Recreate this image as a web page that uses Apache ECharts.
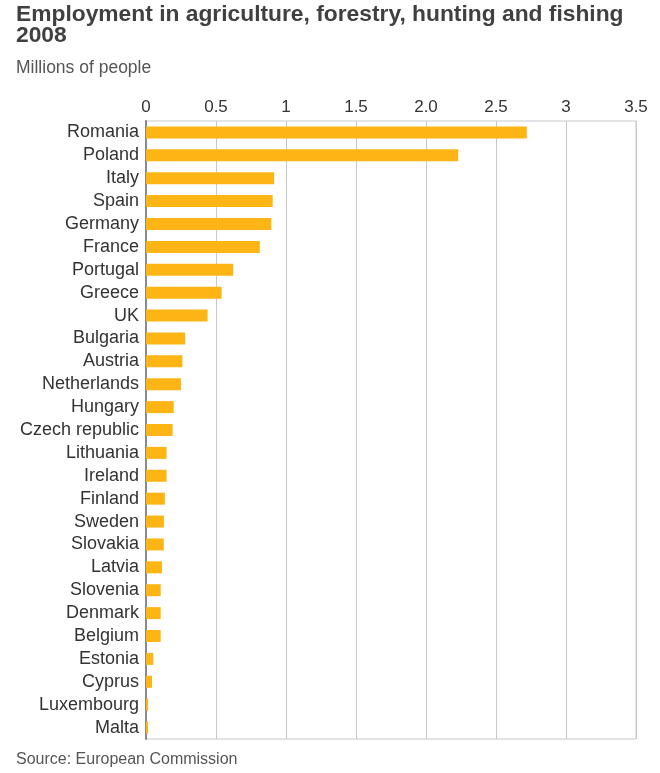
<!DOCTYPE html>
<html>
<head>
<meta charset="utf-8">
<script src="https://cdn.jsdelivr.net/npm/echarts@6/dist/echarts.min.js"></script>
<style>
html,body{margin:0;padding:0;background:#fff;}
#chart{width:660px;height:773px;}
</style>
</head>
<body>
<div id="chart"></div>
<script>
const countries = ["Romania","Poland","Italy","Spain","Germany","France","Portugal","Greece","UK","Bulgaria","Austria","Netherlands","Hungary","Czech republic","Lithuania","Ireland","Finland","Sweden","Slovakia","Latvia","Slovenia","Denmark","Belgium","Estonia","Cyprus","Luxembourg","Malta"];
const employment = [2.72,2.23,0.915,0.905,0.895,0.813,0.623,0.54,0.44,0.28,0.26,0.25,0.198,0.19,0.147,0.147,0.135,0.128,0.127,0.114,0.105,0.105,0.105,0.052,0.043,0.015,0.015];
const tickValues = [0,0.5,1,1.5,2,2.5,3,3.5];
const tickLabels = ["0","0.5","1","1.5","2.0","2.5","3","3.5"];

const chart = echarts.init(document.getElementById('chart'), null, {renderer:'canvas'});
const font = "'Liberation Sans', Arial, Helvetica, sans-serif";
chart.setOption({
  animation:false,
  backgroundColor:'#fff',
  textStyle:{fontFamily:font},
  title:[
    {text:'Employment in agriculture, forestry, hunting and fishing\n2008', left:11, top:-1,
     textStyle:{fontFamily:font, fontSize:22.8, fontWeight:'bold', color:'#404040', lineHeight:21}},
    {text:'Millions of people', left:11, top:54,
     textStyle:{fontFamily:font, fontSize:17.5, fontWeight:'normal', color:'#555'}},
    {text:'Source: European Commission', left:11, top:747,
     textStyle:{fontFamily:font, fontSize:16, fontWeight:'normal', color:'#555'}}
  ],
  grid:{left:146, right:24, top:121, bottom:34, show:true, borderColor:'#c8c8c8', borderWidth:1},
  xAxis:{
    type:'value', position:'top', min:0, max:3.5, interval:0.5,
    axisLine:{show:false}, axisTick:{show:false},
    axisLabel:{color:'#333', fontSize:17, margin:5, fontFamily:font,
      formatter:function(v){const i=tickValues.findIndex(t=>Math.abs(t-v)<1e-9);return i>=0?tickLabels[i]:'';}},
    splitLine:{show:true, lineStyle:{color:'#c8c8c8', width:1}}
  },
  yAxis:{
    type:'category', inverse:true, data:countries,
    axisLine:{show:true, lineStyle:{color:'#8a8a8a', width:2}},
    axisTick:{show:false},
    axisLabel:{color:'#333', fontSize:18, margin:7, interval:0, fontFamily:font}
  },
  series:[{
    type:'bar', data:employment, barWidth:12,
    itemStyle:{color:'#fdb515'}
  }]
});
</script>
</body>
</html>
